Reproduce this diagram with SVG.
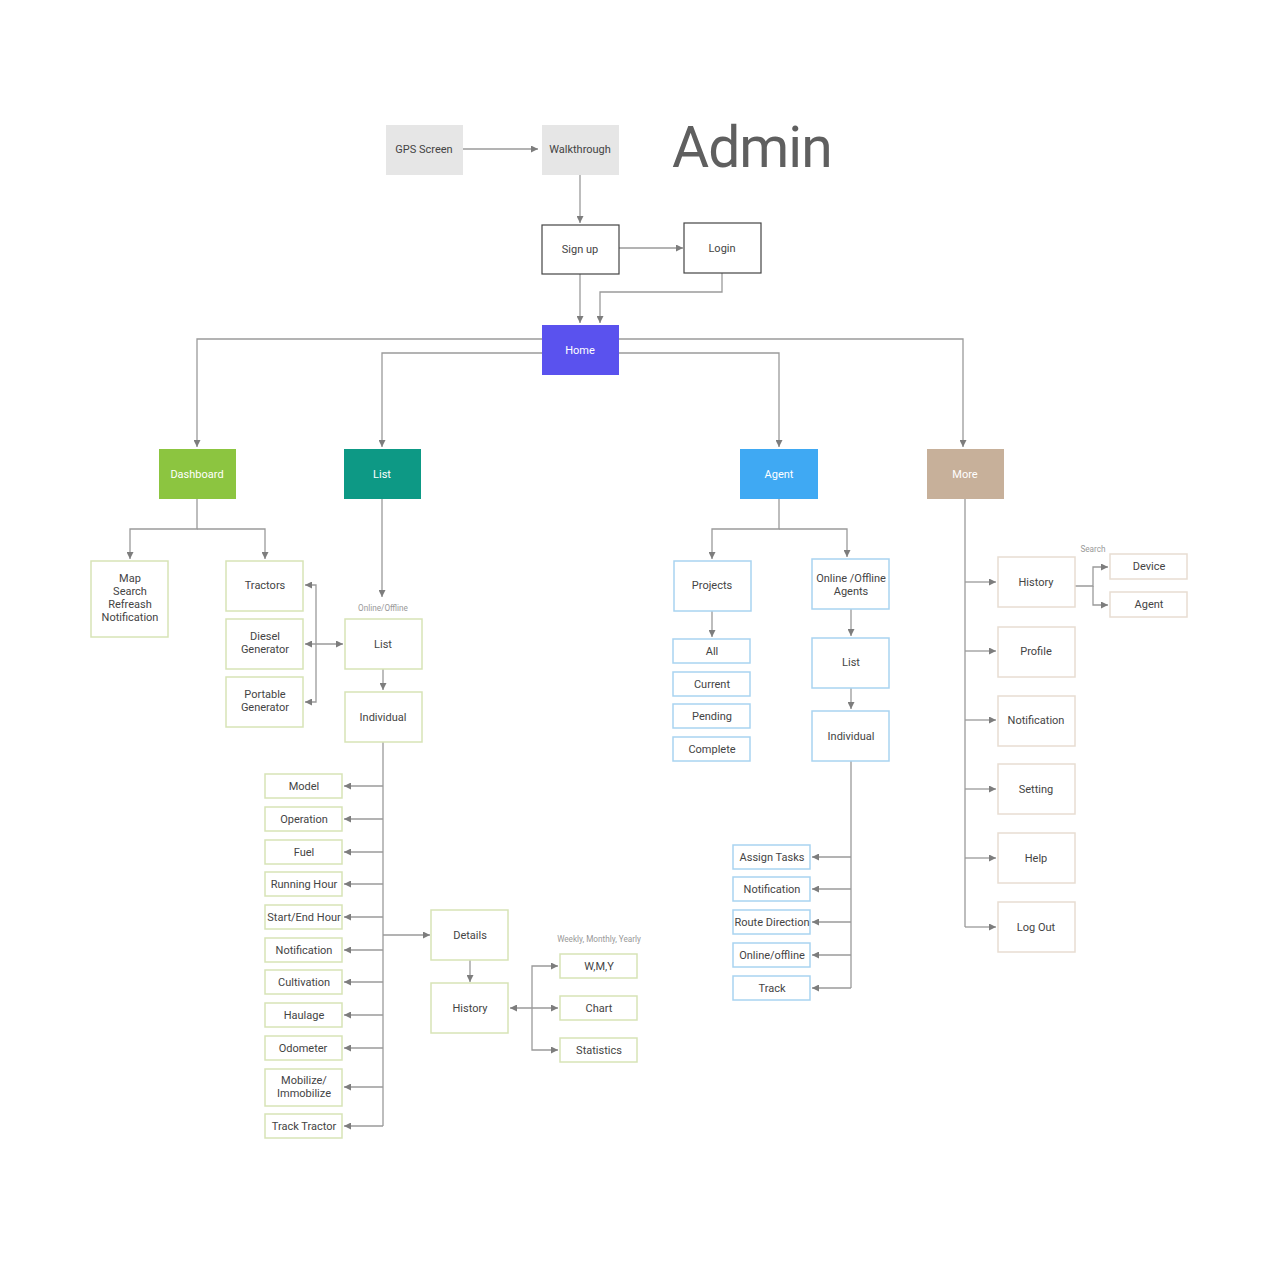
<svg xmlns="http://www.w3.org/2000/svg" width="1280" height="1280" viewBox="0 0 1280 1280">
<defs>
<marker id="ah" viewBox="0 0 8 8" refX="8" refY="4" markerWidth="7" markerHeight="7" markerUnits="userSpaceOnUse" orient="auto-start-reverse">
<path d="M0,0 L8,4 L0,8 z" fill="#7d7d7d"/>
</marker>
<style>
.c{fill:none;stroke:#9a9a9a;stroke-width:1.3}
.a{marker-end:url(#ah)}
.d{marker-start:url(#ah);marker-end:url(#ah)}
text{font-family:Roboto,"Liberation Sans",sans-serif;font-size:11px;fill:#444;text-anchor:middle}
.w{fill:#fff}
.s{font-size:8.2px;fill:#999}
.grey{fill:#e6e6e6}
.dark{fill:#fff;stroke:#444;stroke-width:1.2}
.g{fill:#fff;stroke:#d7e4b6;stroke-width:1.5}
.b{fill:#fff;stroke:#a9d4f1;stroke-width:1.5}
.t{fill:#fff;stroke:#e8ddd2;stroke-width:1.5}
</style>
</defs>
<rect width="1280" height="1280" fill="#fff"/>
<text x="672" y="167" style="font-size:57px;fill:#5f5f5f;text-anchor:start;letter-spacing:-1px">Admin</text>

<g id="connectors">
<path class="c a" d="M463,149 H538"/>
<path class="c a" d="M580,175 V223"/>
<path class="c a" d="M619,248 H683"/>
<path class="c a" d="M580,274 V323"/>
<path class="c a" d="M722,273 V292 H600 V323"/>
<path class="c a" d="M580,339 H197 V447"/>
<path class="c a" d="M580,339 H963 V447"/>
<path class="c a" d="M580,353 H382 V447"/>
<path class="c a" d="M580,353 H779 V447"/>
<path class="c a" d="M197,499 V529 H130 V559"/>
<path class="c a" d="M197,529 H265 V559"/>
<path class="c a" d="M382,499 V597"/>
<path class="c a" d="M316,644 V585 H305"/>
<path class="c a" d="M316,644 V702 H305"/>
<path class="c d" d="M305,644 H343"/>
<path class="c a" d="M383,669 V690"/>
<path class="c" d="M383,742 V1126"/>
<path class="c a" d="M383,786 H344"/>
<path class="c a" d="M383,819 H344"/>
<path class="c a" d="M383,852 H344"/>
<path class="c a" d="M383,884 H344"/>
<path class="c a" d="M383,917 H344"/>
<path class="c a" d="M383,950 H344"/>
<path class="c a" d="M383,982 H344"/>
<path class="c a" d="M383,1015 H344"/>
<path class="c a" d="M383,1048 H344"/>
<path class="c a" d="M383,1087 H344"/>
<path class="c a" d="M383,1126 H344"/>
<path class="c a" d="M383,935 H430"/>
<path class="c a" d="M470,960 V982"/>
<path class="c d" d="M510,1008 H558"/>
<path class="c a" d="M532,1008 V966 H558"/>
<path class="c a" d="M532,1008 V1050 H558"/>
<path class="c a" d="M779,499 V529 H712 V559"/>
<path class="c a" d="M779,529 H847 V557"/>
<path class="c a" d="M712,611 V637"/>
<path class="c a" d="M851,609 V636"/>
<path class="c a" d="M851,688 V709"/>
<path class="c" d="M851,761 V988"/>
<path class="c a" d="M851,857 H812"/>
<path class="c a" d="M851,889 H812"/>
<path class="c a" d="M851,922 H812"/>
<path class="c a" d="M851,955 H812"/>
<path class="c a" d="M851,988 H812"/>
<path class="c" d="M965,499 V927"/>
<path class="c a" d="M965,582 H996"/>
<path class="c a" d="M965,651 H996"/>
<path class="c a" d="M965,720 H996"/>
<path class="c a" d="M965,789 H996"/>
<path class="c a" d="M965,858 H996"/>
<path class="c a" d="M965,927 H996"/>
<path class="c a" d="M1075,586 H1093 V567 H1108"/>
<path class="c a" d="M1093,586 V605 H1108"/>
</g>

<g id="gps"><rect class="grey" x="386" y="125" width="77" height="50"/><text x="424" y="153">GPS Screen</text></g>
<g id="walkthrough"><rect class="grey" x="542" y="125" width="77" height="50"/><text x="580" y="153">Walkthrough</text></g>
<g id="signup"><rect class="dark" x="542" y="225" width="77" height="49"/><text x="580" y="253">Sign up</text></g>
<g id="login"><rect class="dark" x="684" y="223" width="77" height="50"/><text x="722" y="252">Login</text></g>
<g id="home"><rect x="542" y="325" width="77" height="50" fill="#5a52ee"/><text class="w" x="580" y="354">Home</text></g>

<g id="dashboard"><rect x="159" y="449" width="77" height="50" fill="#8cc540"/><text class="w" x="197" y="478">Dashboard</text></g>
<g id="list"><rect x="344" y="449" width="77" height="50" fill="#0d9985"/><text class="w" x="382" y="478">List</text></g>
<g id="agent"><rect x="740" y="449" width="78" height="50" fill="#3fa9f3"/><text class="w" x="779" y="478">Agent</text></g>
<g id="more"><rect x="927" y="449" width="77" height="50" fill="#c7b09a"/><text class="w" x="965" y="478">More</text></g>

<g id="dash-map"><rect class="g" x="91" y="561" width="77" height="76"/><text x="130" y="582">Map</text><text x="130" y="595">Search</text><text x="130" y="608">Refreash</text><text x="130" y="621">Notification</text></g>
<g id="tractors"><rect class="g" x="226" y="561" width="77" height="50"/><text x="265" y="589">Tractors</text></g>
<g id="diesel"><rect class="g" x="226" y="619" width="77" height="50"/><text x="265" y="640">Diesel</text><text x="265" y="653">Generator</text></g>
<g id="portable"><rect class="g" x="226" y="677" width="77" height="50"/><text x="265" y="698">Portable</text><text x="265" y="711">Generator</text></g>

<g id="online-offline-label"><text class="s" x="383" y="611">Online/Offline</text></g>
<g id="list2"><rect class="g" x="345" y="619" width="77" height="50"/><text x="383" y="648">List</text></g>
<g id="individual"><rect class="g" x="345" y="692" width="77" height="50"/><text x="383" y="721">Individual</text></g>

<g id="model"><rect class="g" x="265" y="774" width="77" height="24"/><text x="304" y="790">Model</text></g>
<g id="operation"><rect class="g" x="265" y="807" width="77" height="24"/><text x="304" y="823">Operation</text></g>
<g id="fuel"><rect class="g" x="265" y="840" width="77" height="24"/><text x="304" y="856">Fuel</text></g>
<g id="running"><rect class="g" x="265" y="872" width="77" height="24"/><text x="304" y="888">Running Hour</text></g>
<g id="startend"><rect class="g" x="265" y="905" width="77" height="24"/><text x="304" y="921">Start/End Hour</text></g>
<g id="notification-l"><rect class="g" x="265" y="938" width="77" height="24"/><text x="304" y="954">Notification</text></g>
<g id="cultivation"><rect class="g" x="265" y="970" width="77" height="24"/><text x="304" y="986">Cultivation</text></g>
<g id="haulage"><rect class="g" x="265" y="1003" width="77" height="24"/><text x="304" y="1019">Haulage</text></g>
<g id="odometer"><rect class="g" x="265" y="1036" width="77" height="24"/><text x="303" y="1052">Odometer</text></g>
<g id="mobilize"><rect class="g" x="265" y="1069" width="77" height="37"/><text x="304" y="1084">Mobilize/</text><text x="304" y="1097">Immobilize</text></g>
<g id="tracktractor"><rect class="g" x="265" y="1114" width="77" height="24"/><text x="304" y="1130">Track Tractor</text></g>

<g id="details"><rect class="g" x="431" y="910" width="77" height="50"/><text x="470" y="939">Details</text></g>
<g id="history-l"><rect class="g" x="431" y="983" width="77" height="50"/><text x="470" y="1012">History</text></g>
<g id="wmy-label"><text class="s" x="599" y="942">Weekly, Monthly, Yearly</text></g>
<g id="wmy"><rect class="g" x="560" y="954" width="77" height="24"/><text x="599" y="970">W,M,Y</text></g>
<g id="chart"><rect class="g" x="560" y="996" width="77" height="24"/><text x="599" y="1012">Chart</text></g>
<g id="statistics"><rect class="g" x="560" y="1038" width="77" height="24"/><text x="599" y="1054">Statistics</text></g>

<g id="projects"><rect class="b" x="674" y="561" width="77" height="50"/><text x="712" y="589">Projects</text></g>
<g id="all"><rect class="b" x="673" y="639" width="77" height="24"/><text x="712" y="655">All</text></g>
<g id="current"><rect class="b" x="673" y="672" width="77" height="24"/><text x="712" y="688">Current</text></g>
<g id="pending"><rect class="b" x="673" y="704" width="77" height="24"/><text x="712" y="720">Pending</text></g>
<g id="complete"><rect class="b" x="673" y="737" width="77" height="24"/><text x="712" y="753">Complete</text></g>
<g id="onoff-agents"><rect class="b" x="812" y="559" width="77" height="50"/><text x="851" y="582">Online /Offline</text><text x="851" y="595">Agents</text></g>
<g id="agent-list"><rect class="b" x="812" y="638" width="77" height="50"/><text x="851" y="666">List</text></g>
<g id="agent-individual"><rect class="b" x="812" y="711" width="77" height="50"/><text x="851" y="740">Individual</text></g>
<g id="assign"><rect class="b" x="733" y="845" width="77" height="24"/><text x="772" y="861">Assign Tasks</text></g>
<g id="notification-a"><rect class="b" x="733" y="877" width="77" height="24"/><text x="772" y="893">Notification</text></g>
<g id="route"><rect class="b" x="733" y="910" width="77" height="24"/><text x="772" y="926">Route Direction</text></g>
<g id="onoff"><rect class="b" x="733" y="943" width="77" height="24"/><text x="772" y="959">Online/offline</text></g>
<g id="track"><rect class="b" x="733" y="976" width="77" height="24"/><text x="772" y="992">Track</text></g>

<g id="more-history"><rect class="t" x="998" y="557" width="77" height="50"/><text x="1036" y="586">History</text></g>
<g id="search-label"><text class="s" x="1093" y="552">Search</text></g>
<g id="device"><rect class="t" x="1110" y="554" width="77" height="25"/><text x="1149" y="570">Device</text></g>
<g id="more-agent"><rect class="t" x="1110" y="592" width="77" height="25"/><text x="1149" y="608">Agent</text></g>
<g id="profile"><rect class="t" x="998" y="627" width="77" height="50"/><text x="1036" y="655">Profile</text></g>
<g id="notification-m"><rect class="t" x="998" y="696" width="77" height="50"/><text x="1036" y="724">Notification</text></g>
<g id="setting"><rect class="t" x="998" y="764" width="77" height="50"/><text x="1036" y="793">Setting</text></g>
<g id="help"><rect class="t" x="998" y="833" width="77" height="50"/><text x="1036" y="862">Help</text></g>
<g id="logout"><rect class="t" x="998" y="902" width="77" height="50"/><text x="1036" y="931">Log Out</text></g>
</svg>
